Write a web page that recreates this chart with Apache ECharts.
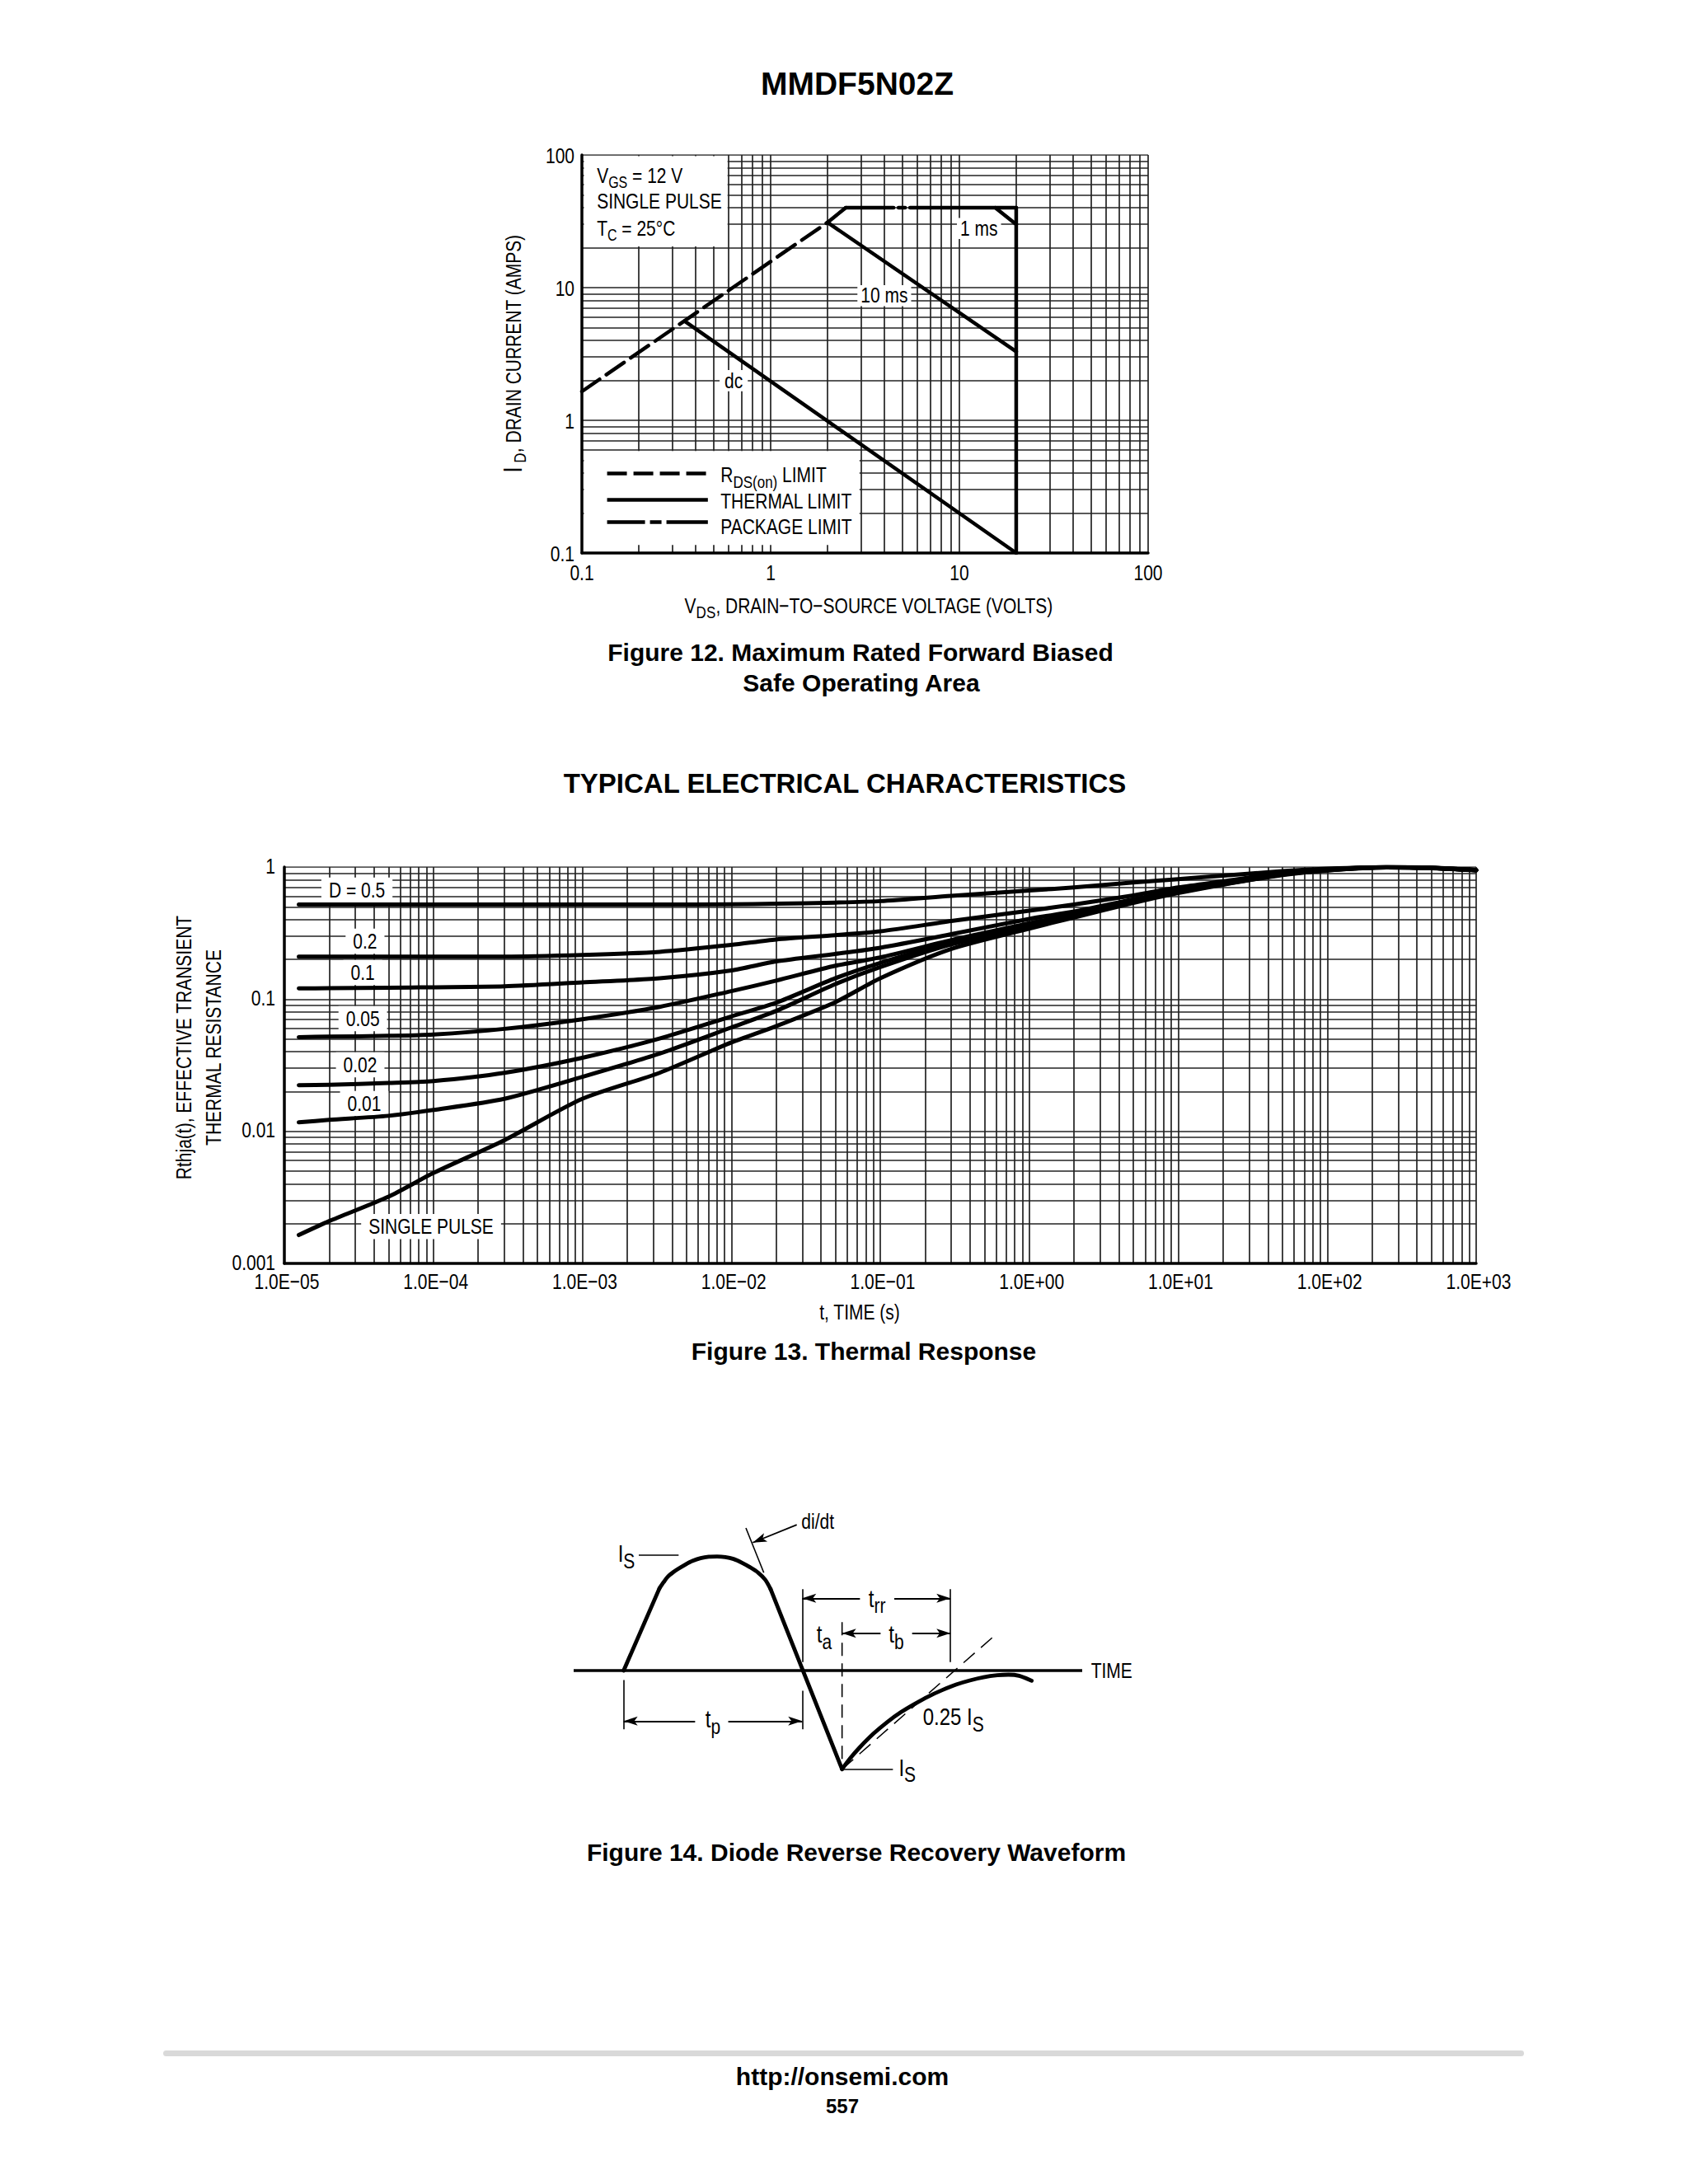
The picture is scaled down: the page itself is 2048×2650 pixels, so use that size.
<!DOCTYPE html>
<html>
<head>
<meta charset="utf-8">
<script src="https://cdn.jsdelivr.net/npm/echarts@6/dist/echarts.min.js"></script>
<style>
html,body{margin:0;padding:0;background:#fff;}
#c{width:2048px;height:2650px;}
</style>
</head>
<body>
<div id="c"></div>
<script>
// ================= DATA =================
// ---- Figure 12: Safe Operating Area ----
const soaTickValues = [0.1, 1, 10, 100];
const soaTickLabels = ['0.1', '1', '10', '100'];
const soaRdsLimit = [[0.1, 1.65], [2.0, 31]];
const soaRdsToPackage = [[2.0, 31], [2.5, 40]];
const soaPackageLimit = [[2.5, 40], [20, 40]];
const soaPulse1ms = [[15.5, 40], [20, 30]];
const soaVdssEdge = [[20, 40], [20, 0.1]];
const soaPulse10ms = [[2.0, 31], [20, 3.3]];
const soaDc = [[0.35, 5.6], [20, 0.1]];
const soaLegendNames = ['RDS(on) LIMIT', 'THERMAL LIMIT', 'PACKAGE LIMIT'];

// ---- Figure 13: Thermal Response ----
const thermXTickValues = [1e-5, 1e-4, 1e-3, 1e-2, 1e-1, 1, 10, 100, 1000];
const thermXTickLabels = ['1.0E\u221205', '1.0E\u221204', '1.0E\u221203', '1.0E\u221202', '1.0E\u221201', '1.0E+00', '1.0E+01', '1.0E+02', '1.0E+03'];
const thermYTickValues = [0.001, 0.01, 0.1, 1];
const thermYTickLabels = ['0.001', '0.01', '0.1', '1'];
const thermTime = [1.25e-5, 2e-5, 5e-5, 1e-4, 3e-4, 1e-3, 3.3e-3, 1e-2, 2e-2, 5e-2, 0.1, 0.3, 1, 2, 5, 10, 20, 50, 100, 250, 500, 1000];
const thermD050 = [0.52, 0.52, 0.52, 0.52, 0.52, 0.52, 0.52, 0.522, 0.527, 0.538, 0.552, 0.605, 0.665, 0.70, 0.765, 0.81, 0.86, 0.93, 0.97, 1.0, 0.99, 0.95];
const thermD020 = [0.21, 0.21, 0.21, 0.21, 0.21, 0.216, 0.228, 0.257, 0.283, 0.305, 0.326, 0.39, 0.467, 0.52, 0.61, 0.70, 0.78, 0.90, 0.96, 0.998, 0.985, 0.948];
const thermD010 = [0.1205, 0.121, 0.122, 0.123, 0.125, 0.134, 0.144, 0.165, 0.193, 0.22, 0.245, 0.31, 0.405, 0.46, 0.57, 0.665, 0.76, 0.89, 0.955, 0.996, 0.984, 0.947];
const thermD005 = [0.0516, 0.052, 0.0528, 0.054, 0.0596, 0.0705, 0.0874, 0.115, 0.138, 0.179, 0.207, 0.28, 0.375, 0.44, 0.555, 0.655, 0.75, 0.885, 0.95, 0.995, 0.983, 0.946];
const thermD002 = [0.0223, 0.0225, 0.0232, 0.024, 0.0277, 0.036, 0.0504, 0.074, 0.094, 0.144, 0.188, 0.27, 0.36, 0.43, 0.55, 0.65, 0.745, 0.88, 0.948, 0.994, 0.982, 0.945];
const thermD001 = [0.0117, 0.0122, 0.0131, 0.0145, 0.0176, 0.0258, 0.0387, 0.061, 0.0814, 0.13, 0.175, 0.26, 0.352, 0.425, 0.545, 0.645, 0.74, 0.875, 0.945, 0.993, 0.981, 0.944];
const thermSingle = [0.00164, 0.00209, 0.0032, 0.00483, 0.00857, 0.0176, 0.0277, 0.047, 0.0625, 0.095, 0.144, 0.24, 0.342, 0.415, 0.535, 0.635, 0.735, 0.87, 0.942, 0.992, 0.98, 0.943];
const thermCurveNames = ['D = 0.5', '0.2', '0.1', '0.05', '0.02', '0.01', 'SINGLE PULSE'];

// ---- Figure 14: Diode reverse recovery waveform (arbitrary time units, current in units of IS) ----
const recBaseline = [[0, 0], [100, 0]];
const recRise = [[9.83, 0], [16.86, 0.717]];
const recArc = [[16.86, 0.717], [17.67, 0.770], [18.48, 0.818], [19.56, 0.858], [20.64, 0.890], [21.99, 0.926], [23.34, 0.957], [24.96, 0.981], [26.58, 0.993], [28.2, 0.995], [29.82, 0.990], [31.44, 0.974], [33.06, 0.942], [34.68, 0.902], [36.3, 0.854], [37.65, 0.794], [38.74, 0.710]];
const recFall = [[38.74, 0.710], [52.78, -0.861]];
const recRecovery = [[52.78, -0.861], [54.4, -0.765], [56.29, -0.669], [59.0, -0.549], [61.7, -0.448], [64.4, -0.362], [67.1, -0.290], [69.8, -0.225], [72.5, -0.170], [75.2, -0.122], [77.9, -0.086], [80.6, -0.058], [83.3, -0.041], [85.5, -0.036], [87.6, -0.046], [90.06, -0.089]];
const recTangent = [[52.78, -0.861], [83.3, 0.326]];
const recTaMarker = [[52.78, 0.422], [52.78, -0.861]];
const recExtLines = [
  [[9.83, -0.082], [9.83, -0.513]],
  [[44.94, 0.710], [44.94, 0.074]],
  [[44.94, -0.177], [44.94, -0.513]],
  [[74.1, 0.710], [74.1, 0.074]],
  [[12.8, 1.010], [20.64, 1.010]],
  [[52.78, -0.861], [62.78, -0.861]],
  [[33.87, 1.245], [37.39, 0.854]]
];
const recArrows = [
  [[23.88, -0.441], [9.83, -0.441]], [[30.4, -0.441], [44.94, -0.441]],   // tp
  [[56.3, 0.631], [44.94, 0.631]], [[63.05, 0.631], [74.1, 0.631]],       // trr
  [[60.35, 0.326], [52.78, 0.326]], [[66.56, 0.326], [74.1, 0.326]],      // tb
  [[43.87, 1.273], [35.22, 1.117]]                                        // di/dt
];

// ================= FONTS =================
function fontAvailable(name) {
  const ctx = document.createElement('canvas').getContext('2d');
  const s = 'mmmmmmmmmmlliWW0123456789 ABCDEFG';
  return ['monospace', 'serif'].some(function (b) {
    ctx.font = '40px ' + b; const w0 = ctx.measureText(s).width;
    ctx.font = '40px "' + name + '", ' + b; return ctx.measureText(s).width !== w0;
  });
}
let NF = '"Liberation Sans Narrow", "Arial Narrow", sans-serif';
const narrowOK = fontAvailable('Liberation Sans Narrow') || fontAvailable('Arial Narrow');
if (!narrowOK) NF = '"Liberation Sans", Arial, Helvetica, sans-serif';
const NS = narrowOK ? 1 : 0.82;        // horizontal size factor when narrow face is missing
const SY = narrowOK ? 1 : 1 / 0.82;    // vertical stretch to emulate condensed face
const BF = '"Liberation Sans", Arial, Helvetica, sans-serif';

// ================= HELPERS =================
function logGridValues(e0, e1) {
  const v = [];
  for (let e = e0; e < e1; e++) for (let k = 1; k < 10; k++) v.push(k * Math.pow(10, e));
  v.push(Math.pow(10, e1));
  return v;
}
function zipXY(xs, ys) { return xs.map(function (x, i) { return [x, ys[i]]; }); }

const GRID_COLOR = '#222';

function gridLinesSeries(xi, xs, ys, xmin, xmax, ymin, ymax) {
  const data = [];
  xs.forEach(function (v) { data.push({ coords: [[v, ymin], [v, ymax]] }); });
  ys.forEach(function (v) { data.push({ coords: [[xmin, v], [xmax, v]] }); });
  return {
    type: 'lines', coordinateSystem: 'cartesian2d', xAxisIndex: xi, yAxisIndex: xi,
    silent: true, z: 1, polyline: false, effect: { show: false },
    lineStyle: { color: GRID_COLOR, width: 1.7, opacity: 1, curveness: 0 },
    data: data
  };
}

const soaGridX = logGridValues(-1, 2).filter(function (v) { return v > 0.1000001; });
const soaGridY = logGridValues(-1, 2).filter(function (v) { return v > 0.1000001; });
const thermGridX = logGridValues(-5, 3).filter(function (v) { return v > 1.000001e-5; });
const thermGridY = logGridValues(-3, 0).filter(function (v) { return v > 0.0010001; });

const heavyAxis = { show: true, onZero: false, lineStyle: { color: '#000', width: 3.5 } };

function lineSeries(xi, data, width, dash, extra) {
  const s = {
    type: 'line', xAxisIndex: xi, yAxisIndex: xi, data: data, symbol: 'none', silent: true, z: 5,
    lineStyle: { color: '#000', width: width, type: dash || 'solid', cap: 'round', join: 'round' }
  };
  return Object.assign(s, extra || {});
}

const ARROW = 'path://M0,0 M34,34 M17,17 L22.5,34 L17,30 L11.5,34 Z';

function logAxis(gi, min, max) {
  return { gridIndex: gi, type: 'log', logBase: 10, min: min, max: max, z: 4, axisLine: heavyAxis,
    axisTick: { show: false }, splitLine: { show: false }, axisLabel: { show: false } };
}

// ================= OPTION =================
const chart = echarts.init(document.getElementById('c'), null, { renderer: 'svg', width: 2048, height: 2650 });

const thermSeries = [thermD050, thermD020, thermD010, thermD005, thermD002, thermD001, thermSingle].map(function (vals, i) {
  return lineSeries(1, zipXY(thermTime, vals), 5, 'solid', { name: thermCurveNames[i], smooth: 0.25 });
});

const option = {
  animation: false,
  backgroundColor: '#fff',
  grid: [
    { left: 706, top: 188, width: 687, height: 483 },
    { left: 345, top: 1052, width: 1446, height: 481 },
    { left: 696, top: 1832.4, width: 678.7, height: 333.6 }
  ],
  xAxis: [
    logAxis(0, 0.1, 100),
    logAxis(1, 1e-5, 1000),
    { gridIndex: 2, type: 'value', min: 0, max: 110, show: false }
  ],
  yAxis: [
    logAxis(0, 0.1, 100),
    logAxis(1, 0.001, 1),
    { gridIndex: 2, type: 'value', min: -1, max: 1.4, show: false }
  ],
  series: [
    // Figure 12
    gridLinesSeries(0, soaGridX, soaGridY, 0.1, 100, 0.1, 100),
    lineSeries(0, soaRdsLimit, 4.5, [26, 10], { name: soaLegendNames[0] }),
    lineSeries(0, soaRdsToPackage, 4.5, 'solid'),
    lineSeries(0, soaPackageLimit, 4.5, [58, 6, 8, 6, 300, 0], { name: soaLegendNames[2] }),
    lineSeries(0, soaPulse1ms, 4.5, 'solid', { name: '1 ms' }),
    lineSeries(0, soaVdssEdge, 4.5, 'solid'),
    lineSeries(0, soaPulse10ms, 4.5, 'solid', { name: '10 ms' }),
    lineSeries(0, soaDc, 4.5, 'solid', { name: 'dc' }),
    { type: 'lines', coordinateSystem: 'cartesian2d', xAxisIndex: 0, yAxisIndex: 0, silent: true, z: 5,
      lineStyle: { color: '#000', width: 4.5, opacity: 1 },
      data: [
        { coords: [[0.136, 0.397], [0.465, 0.397]], lineStyle: { type: [24, 8] } },
        { coords: [[0.136, 0.254], [0.465, 0.254]], lineStyle: { type: 'solid' } },
        { coords: [[0.136, 0.171], [0.465, 0.171]], lineStyle: { type: [46, 6, 14, 6, 60, 0] } }
      ] },
    // Figure 13
    gridLinesSeries(1, thermGridX, thermGridY, 1e-5, 1000, 0.001, 1)
  ].concat(thermSeries).concat([
    // Figure 14
    lineSeries(2, recBaseline, 3.5, 'solid', { lineStyle: { color: '#000', width: 3.5, cap: 'butt' } }),
    lineSeries(2, recRise, 4.8, 'solid'),
    lineSeries(2, recArc, 4.8, 'solid', { smooth: 0.3 }),
    lineSeries(2, recFall, 4.8, 'solid'),
    lineSeries(2, recRecovery, 4.8, 'solid', { smooth: 0.3 }),
    lineSeries(2, recTangent, 1.5, [18, 10], { lineStyle: { color: '#000', width: 1.5, type: [18, 10], cap: 'butt' } }),
    lineSeries(2, recTaMarker, 1.6, [16, 9], { lineStyle: { color: '#000', width: 1.6, type: [16, 9], cap: 'butt' } }),
    { type: 'lines', coordinateSystem: 'cartesian2d', xAxisIndex: 2, yAxisIndex: 2, silent: true, z: 5,
      lineStyle: { color: '#000', width: 1.6, opacity: 1 },
      data: recExtLines.map(function (c) { return { coords: c }; }) },
    { type: 'lines', coordinateSystem: 'cartesian2d', xAxisIndex: 2, yAxisIndex: 2, silent: true, z: 5,
      symbol: ['none', ARROW], symbolSize: 34,
      lineStyle: { color: '#000', width: 1.8, opacity: 1 }, itemStyle: { color: '#000' },
      data: recArrows.map(function (c) { return { coords: c }; }) }
  ])
};
chart.setOption(option);

// ================= ANNOTATIONS (placed through the chart scales) =================
function P(g, x, y) { return chart.convertToPixel({ gridIndex: g }, [x, y]); }
function rich(m, s, p0) {
  return {
    m: { fontFamily: NF, fontSize: Math.round(m * NS), fill: '#000' },
    b: { fontFamily: NF, fontSize: Math.round((m + 4) * NS), fill: '#000' },
    s: { fontFamily: NF, fontSize: Math.round(s * NS), fill: '#000', padding: [p0 * NS, 0, 0, 0] }
  };
}
function txt(x, y, text, opts) {
  opts = opts || {};
  const size = opts.size || 26;
  const style = {
    text: text, fill: '#000',
    fontFamily: opts.bold ? BF : NF, fontSize: opts.bold ? size : Math.round(size * NS), fontWeight: opts.bold ? 'bold' : 'normal',
    align: opts.align || 'center', textAlign: opts.align || 'center',
    verticalAlign: 'middle', textVerticalAlign: 'middle'
  };
  if (opts.rich) style.rich = opts.rich;
  if (opts.bg) { style.backgroundColor = '#fff'; style.padding = opts.pad || [2, 6]; }
  return { type: 'text', x: x, y: y, rotation: opts.rot || 0, scaleY: opts.bold ? 1 : SY,
    z: opts.z || 6, silent: true, style: style };
}
function whiteRect(g, x0, y0, x1, y1, inset) {
  const a = P(g, x0, y1), b = P(g, x1, y0);
  return { type: 'rect', z: 2, silent: true,
    shape: { x: a[0] + inset[0], y: a[1] + inset[1], width: b[0] - a[0] - inset[0] - inset[2], height: b[1] - a[1] - inset[1] - inset[3] },
    style: { fill: '#fff' } };
}

const g = [];
// page texts
g.push(txt(1040, 101, 'MMDF5N02Z', { bold: true, size: 39 }));
g.push(txt(1044, 791, 'Figure 12. Maximum Rated Forward Biased', { bold: true, size: 30 }));
g.push(txt(1045, 828, 'Safe Operating Area', { bold: true, size: 30 }));
g.push(txt(1025, 950, 'TYPICAL ELECTRICAL CHARACTERISTICS', { bold: true, size: 33 }));
g.push(txt(1048, 1639, 'Figure 13. Thermal Response', { bold: true, size: 30 }));
g.push(txt(1039, 2247, 'Figure 14. Diode Reverse Recovery Waveform', { bold: true, size: 30 }));
g.push(txt(1022, 2519, 'http://onsemi.com', { bold: true, size: 30 }));
g.push(txt(1022, 2555, '557', { bold: true, size: 24 }));
g.push({ type: 'rect', z: 1, silent: true, shape: { x: 198, y: 2488, width: 1651, height: 7, r: 3.5 }, style: { fill: '#d9d9d9' } });

// ---- Figure 12 tick labels ----
soaTickValues.forEach(function (v, i) {
  const px = P(0, v, 0.1); g.push(txt(px[0], px[1] + 24, soaTickLabels[i], { size: 26 }));
  const py = P(0, 0.1, v); g.push(txt(py[0] - 9, py[1] + 1, soaTickLabels[i], { size: 26, align: 'right' }));
});
// Figure 12 axis titles
g.push(txt(1054, 735, '{m|V}{s|DS}{m|, DRAIN\u2212TO\u2212SOURCE VOLTAGE (VOLTS)}', { rich: rich(26, 21, 16) }));
g.push(txt(623, 429, '{b|I}{s| D}{m|, DRAIN CURRENT (AMPS)}', { rich: rich(26, 21, 16), rot: Math.PI / 2 }));
// Figure 12 boxes
g.push(whiteRect(0, 0.1, 20, 0.6, 100, [2.5, 1.5, 1.5, 1.5]));
g.push(whiteRect(0, 0.1, 0.115, 3.0, 0.6, [2.5, 1.5, 1.5, 0]));
// Figure 12 conditions
let p = P(0, 0.12, 70); g.push(txt(p[0], p[1], '{m|V}{s|GS}{m| = 12 V}', { rich: rich(25, 20, 16), align: 'left' }));
p = P(0, 0.12, 44.8); g.push(txt(p[0], p[1], 'SINGLE PULSE', { size: 25, align: 'left' }));
p = P(0, 0.12, 27.9); g.push(txt(p[0], p[1], '{m|T}{s|C}{m| = 25\u00B0C}', { rich: rich(25, 20, 16), align: 'left' }));
// Figure 12 legend texts
p = P(0, 0.543, 0.386); g.push(txt(p[0], p[1], '{m|R}{s|DS(on)}{m| LIMIT}', { rich: rich(25, 21, 16), align: 'left' }));
p = P(0, 0.543, 0.246); g.push(txt(p[0], p[1], soaLegendNames[1], { size: 25, align: 'left' }));
p = P(0, 0.543, 0.157); g.push(txt(p[0], p[1], soaLegendNames[2], { size: 25, align: 'left' }));
// Figure 12 curve labels
p = P(0, 12.7, 27.9); g.push(txt(p[0], p[1], '1 ms', { size: 25, bg: true, pad: [0, 4], z: 3 }));
p = P(0, 4.0, 8.7); g.push(txt(p[0], p[1], '10 ms', { size: 25, bg: true, pad: [0, 4], z: 3 }));
p = P(0, 0.637, 1.99); g.push(txt(p[0], p[1], 'dc', { size: 25, bg: true, pad: [0, 6], z: 3 }));

// ---- Figure 13 tick labels ----
thermXTickValues.forEach(function (v, i) {
  const px = P(1, v, 0.001); g.push(txt(px[0] + 3, px[1] + 22, thermXTickLabels[i], { size: 26 }));
});
thermYTickValues.forEach(function (v, i) {
  const py = P(1, 1e-5, v); g.push(txt(py[0] - 11, py[1] - 1, thermYTickLabels[i], { size: 26, align: 'right' }));
});
// Figure 13 titles
g.push(txt(1043, 1592, 't, TIME (s)', { size: 26 }));
g.push(txt(223, 1271, 'Rthja(t), EFFECTIVE TRANSIENT', { size: 26, rot: Math.PI / 2 }));
g.push(txt(259, 1271, 'THERMAL RESISTANCE', { size: 26, rot: Math.PI / 2 }));
// Figure 13 curve labels
const thermLabelPos = [[3.07e-5, 0.669], [3.48e-5, 0.275], [3.36e-5, 0.159], [3.36e-5, 0.0711], [3.23e-5, 0.0318], [3.44e-5, 0.0162], [9.66e-5, 0.0019]];
thermLabelPos.forEach(function (q, i) {
  const pp = P(1, q[0], q[1]);
  g.push(txt(pp[0], pp[1], thermCurveNames[i], { size: 26, bg: true, pad: [2, 9], z: 3 }));
});

// Figure 14 texts
const r14 = rich(29, 25, 17);
p = P(2, 10.37, 1.017); g.push(txt(p[0], p[1], '{m|I}{s|S}', { rich: r14 }));
p = P(2, 48.0, 1.297); g.push(txt(p[0], p[1], 'di/dt', { size: 26 }));
p = P(2, 59.66, 0.626); g.push(txt(p[0], p[1], '{m|t}{s|rr}', { rich: r14 }));
p = P(2, 49.27, 0.314); g.push(txt(p[0], p[1], '{m|t}{s|a}', { rich: r14 }));
p = P(2, 63.45, 0.314); g.push(txt(p[0], p[1], '{m|t}{s|b}', { rich: r14 }));
p = P(2, 27.39, -0.429); g.push(txt(p[0], p[1], '{m|t}{s|p}', { rich: r14 }));
p = P(2, 74.67, -0.405); g.push(txt(p[0], p[1], '{m|0.25 I}{s|S}', { rich: r14 }));
p = P(2, 65.6, -0.849); g.push(txt(p[0], p[1], '{m|I}{s|S}', { rich: r14 }));
p = P(2, 105.8, 0.0); g.push(txt(p[0], p[1], 'TIME', { size: 26 }));

chart.setOption({ graphic: { elements: g } });
</script>
</body>
</html>
